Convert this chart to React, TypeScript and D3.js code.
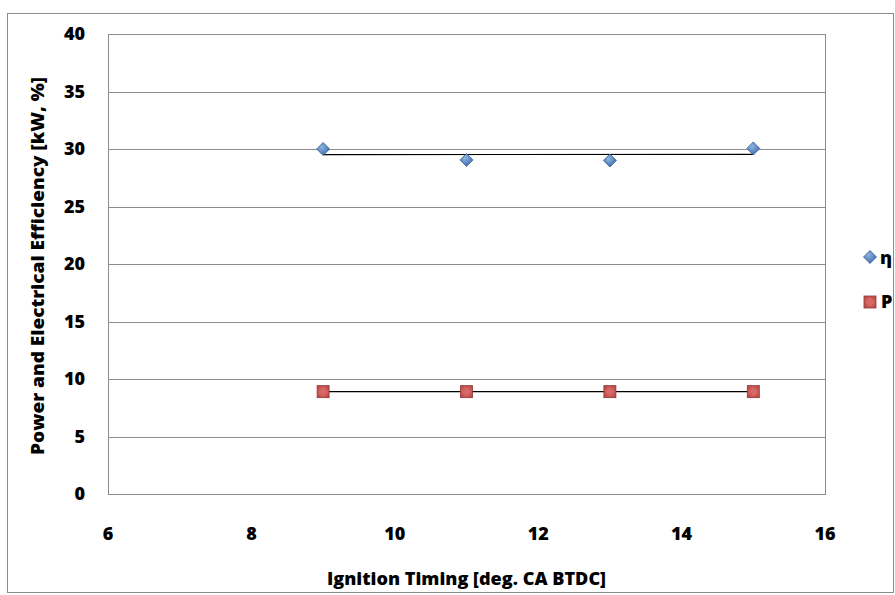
import React from "react";
import * as d3 from "d3";

const timing = [9, 11, 13, 15];
const etaValues = [30.0, 29.05, 29.0, 30.05];
const powerValues = [8.9, 8.9, 8.9, 8.9];
const xTicks = [6, 8, 10, 12, 14, 16];
const yTicks = [0, 5, 10, 15, 20, 25, 30, 35, 40];
const seriesNames = ["η", "P"];

const W = 895, H = 595;
const M = { left: 108, right: 825, top: 34, bottom: 494 };

function regression(xs: number[], ys: number[]) {
  const mx = d3.mean(xs)!, my = d3.mean(ys)!;
  let num = 0, den = 0;
  xs.forEach((x, i) => { num += (x - mx) * (ys[i] - my); den += (x - mx) ** 2; });
  const b = den ? num / den : 0;
  return (x: number) => my + b * (x - mx);
}

export default function App() {
  const x = d3.scaleLinear().domain([6, 16]).range([M.left, M.right]);
  const y = d3.scaleLinear().domain([0, 40]).range([M.bottom, M.top]);
  const font = "'Open Sans', 'Noto Sans', sans-serif";
  const fw = 800;
  const line = d3.line<number>().x((d) => x(d[0])).y((d) => y(d[1]));
  const fitE = regression(timing, etaValues);
  const fitP = regression(timing, powerValues);
  const x0 = d3.min(timing)!, x1 = d3.max(timing)!;

  const diamond = (cx: number, cy: number, key: any) => (
    <path key={key} d={`M${cx},${cy - 6.5}L${cx + 6.5},${cy}L${cx},${cy + 6.5}L${cx - 6.5},${cy}Z`}
      fill="url(#gBlue)" stroke="#385D8A" strokeWidth={0.8} />
  );
  const square = (cx: number, cy: number, key: any) => (
    <g key={key}>
      <rect x={cx - 6} y={cy - 6} width={12} height={12} fill="url(#gRed)" stroke="#8C3836" strokeWidth={0.8} />
      <path d={`M${cx - 6},${cy - 6}L${cx},${cy}L${cx + 6},${cy - 6}M${cx - 6},${cy + 6}L${cx},${cy}L${cx + 6},${cy + 6}`} stroke="#A94442" strokeWidth={0.6} fill="none" opacity={0.6} />
    </g>
  );

  return (
    <svg width={W} height={H} style={{ position: "absolute", left: 0, top: 0 }}>
      <defs>
        <radialGradient id="gBlue" cx="40%" cy="35%" r="70%">
          <stop offset="0%" stopColor="#8DB3E2" />
          <stop offset="100%" stopColor="#3A6BAA" />
        </radialGradient>
        <radialGradient id="gRed" cx="50%" cy="50%" r="70%">
          <stop offset="0%" stopColor="#E67B78" />
          <stop offset="100%" stopColor="#B8403D" />
        </radialGradient>
      </defs>
      <rect x={0} y={0} width={W} height={H} fill="white" />
      <rect x={7.5} y={13.5} width={W - 9} height={H - 16} fill="white" stroke="#8c8c8c" strokeWidth={1} />
      {yTicks.map((t) => (
        <line key={t} x1={M.left} x2={M.right} y1={Math.round(y(t)) + 0.5} y2={Math.round(y(t)) + 0.5} stroke="#8c8c8c" strokeWidth={1} />
      ))}
      <rect x={M.left + 0.5} y={M.top + 0.5} width={M.right - M.left} height={M.bottom - M.top} fill="none" stroke="#8c8c8c" strokeWidth={1} />
      {yTicks.map((t) => (
        <text key={t} x={85} y={y(t)} dy="0.36em" textAnchor="end" fontFamily={font} fontWeight={fw} fontSize={18}>{t}</text>
      ))}
      {xTicks.map((t) => (
        <text key={t} x={x(t)} y={534} dy="0.36em" textAnchor="middle" fontFamily={font} fontWeight={fw} fontSize={18}>{t}</text>
      ))}
      <text x={(M.left + M.right) / 2} y={579} dy="0.36em" textAnchor="middle" fontFamily={font} fontWeight={fw} fontSize={17} textLength={279} lengthAdjust="spacingAndGlyphs">Ignition Timing [deg. CA BTDC]</text>
      <text transform={`translate(38,${(M.top + M.bottom) / 2 + 2}) rotate(-90)`} dy="0.36em" textAnchor="middle" fontFamily={font} fontWeight={fw} fontSize={17} textLength={378} lengthAdjust="spacingAndGlyphs">Power and Electrical Efficiency [kW, %]</text>
      <path d={line([[x0, fitE(x0)], [x1, fitE(x1)]] as any) || ""} stroke="#000" strokeWidth={1.2} fill="none" />
      <path d={line([[x0, fitP(x0)], [x1, fitP(x1)]] as any) || ""} stroke="#000" strokeWidth={1.2} fill="none" />
      {timing.map((t, i) => diamond(x(t), y(etaValues[i]), "e" + i))}
      {timing.map((t, i) => square(x(t), y(powerValues[i]), "p" + i))}
      {diamond(870, 257, "le")}
      <text x={880} y={258} dy="0.36em" fontFamily={font} fontWeight={fw} fontSize={18}>{seriesNames[0]}</text>
      {square(870, 302, "lp")}
      <text x={881} y={302} dy="0.36em" fontFamily={font} fontWeight={fw} fontSize={18}>{seriesNames[1]}</text>
    </svg>
  );
}
